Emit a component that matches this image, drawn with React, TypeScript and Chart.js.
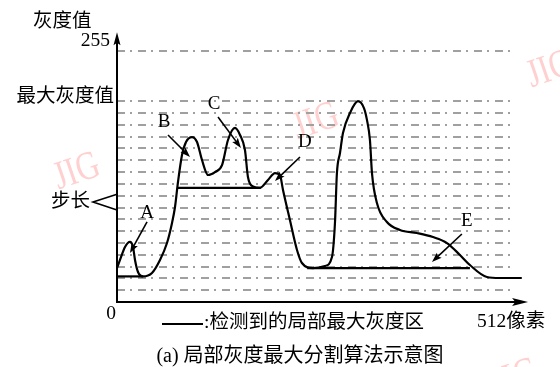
import React, { useEffect, useRef } from "react";
import { Chart, registerables } from "chart.js";

Chart.register(...registerables);

// Gray-level profile along the pixel row (x: pixel index, y: gray value)
const profileX = [0, 3.8, 10.2, 16.5, 20.4, 22.9, 26.7, 33.1, 44.5, 54.7, 63.6, 70, 73.8, 77.6, 82.7, 87.8, 95.4, 101.8, 108.1, 115.8, 124.7, 133.6, 141.2, 150.1, 156.5, 162.8, 166.6, 173, 181.9, 192.1, 201, 207.3, 211.2, 220, 229, 235.3, 249.3, 264.6, 273.5, 277.3, 279.8, 283.7, 287.5, 296.4, 306.6, 314.2, 318, 321.8, 324.4, 330.7, 343.4, 360, 381.6, 402, 419.8, 436.3, 449, 470.6, 487.2, 515];
const profileY = [34.5, 42.7, 55.9, 61, 55.9, 42.7, 30.5, 26, 29.5, 42.7, 59.9, 80.3, 96.5, 121.9, 149.4, 162.6, 167.6, 162.6, 144.3, 129, 132, 139, 164.6, 176.8, 169.7, 154.4, 127, 117.5, 116, 124, 131, 129, 113.8, 83.3, 52.8, 39.6, 34.5, 36.6, 45.7, 80.3, 131, 151.4, 171.7, 192, 204, 197, 185, 164.6, 131, 100.6, 81.3, 73.2, 70.1, 66, 59.9, 47.8, 37.6, 25.4, 24.4, 24.4];

// Detected local-maximum gray regions (horizontal segments)
const regionStartX = [0, 77, 242];
const regionEndX = [33, 183, 449];
const regionLevel = [26, 116, 34.5];

// Dash-dot level lines (step = 12) and the 255 line
const gridLevels = [12, 24, 36, 48, 60, 72, 84, 96, 108, 120, 132, 144, 156, 168, 180, 192, 204, 255];

// Annotation arrows A..E
const markerLabels = ["A", "B", "C", "D", "E"];
const markerFromX = [38.2, 64.9, 128.5, 232.8, 438.8];
const markerFromY = [81.3, 169.7, 188, 147.3, 69.1];
const markerToX = [16.5, 92.9, 157.7, 201, 400.7];
const markerToY = [49.8, 147.3, 156.5, 122.9, 40.6];
const markerLabelX = [38.2, 59.8, 123.4, 239.1, 445.2];
const markerLabelY = [90.4, 182.9, 201.2, 162.6, 82.3];

const yAxisLabel = "灰度值";
const yTopLabel = "255";
const yMaxLabel = "最大灰度值";
const stepLabel = "步长";
const originLabel = "0";
const xAxisLabel = "512像素";
const legendLabel = ":检测到的局部最大灰度区";
const captionLabel = "(a) 局部灰度最大分割算法示意图";

const X_MAX = 500;
const Y_MAX = 255;
const X_ARROW = 523;
const Y_ARROW = 274;
const STEP_HI = 109.5;
const STEP_LO = 93.5;

const FONT = '"Liberation Serif", "Noto Sans CJK SC", serif';

function arrowHead(ctx: CanvasRenderingContext2D, fx: number, fy: number, tx: number, ty: number, len: number, half: number) {
  const ang = Math.atan2(ty - fy, tx - fx);
  ctx.save();
  ctx.translate(tx, ty);
  ctx.rotate(ang);
  ctx.beginPath();
  ctx.moveTo(0, 0);
  ctx.lineTo(-len, half);
  ctx.lineTo(-len * 0.8, 0);
  ctx.lineTo(-len, -half);
  ctx.closePath();
  ctx.fill();
  ctx.restore();
}

const decorPlugin = {
  id: "decor",
  beforeDraw(chart: any) {
    const ctx: CanvasRenderingContext2D = chart.ctx;
    ctx.save();
    ctx.fillStyle = "#ffffff";
    ctx.fillRect(0, 0, chart.width, chart.height);
    ctx.fillStyle = "rgba(255, 150, 150, 0.45)";
    ctx.font = '40px "Liberation Serif", serif';
    ctx.textAlign = "center";
    ctx.textBaseline = "middle";
    const marks = [
      [77, 172],
      [316, 122],
      [550, 70],
      [515, 378],
    ];
    for (const [cx, cy] of marks) {
      ctx.save();
      ctx.translate(cx, cy);
      ctx.rotate(-0.33);
      ctx.scale(0.8, 1);
      ctx.fillText("JIG", 0, 0);
      ctx.restore();
    }
    ctx.restore();
  },
  afterDraw(chart: any) {
    const ctx: CanvasRenderingContext2D = chart.ctx;
    const xs = chart.scales.x;
    const ys = chart.scales.y;
    const px = (v: number) => xs.getPixelForValue(v);
    const py = (v: number) => ys.getPixelForValue(v);
    const x0 = px(0);
    const y0 = py(0);
    ctx.save();
    ctx.strokeStyle = "#000";
    ctx.fillStyle = "#000";
    ctx.lineCap = "butt";

    // axes
    ctx.lineWidth = 2;
    ctx.beginPath();
    ctx.moveTo(x0, y0 + 1);
    ctx.lineTo(x0, py(Y_ARROW) + 8);
    ctx.moveTo(x0 - 1, y0);
    ctx.lineTo(px(X_ARROW) - 10, y0);
    ctx.stroke();
    arrowHead(ctx, x0, y0, x0, py(Y_ARROW), 13, 3.5);
    arrowHead(ctx, x0, y0, px(X_ARROW), y0, 16, 4);

    // step bracket
    ctx.lineWidth = 1.6;
    ctx.beginPath();
    ctx.moveTo(x0, py(STEP_HI));
    ctx.lineTo(x0 - 24, (py(STEP_HI) + py(STEP_LO)) / 2);
    ctx.lineTo(x0, py(STEP_LO));
    ctx.stroke();

    // annotation arrows
    ctx.lineWidth = 1.6;
    ctx.font = "19px " + FONT;
    ctx.textAlign = "center";
    ctx.textBaseline = "middle";
    for (let i = 0; i < markerLabels.length; i++) {
      const fx = px(markerFromX[i]);
      const fy = py(markerFromY[i]);
      const tx = px(markerToX[i]);
      const ty = py(markerToY[i]);
      const ang = Math.atan2(ty - fy, tx - fx);
      ctx.beginPath();
      ctx.moveTo(fx, fy);
      ctx.lineTo(tx - Math.cos(ang) * 6, ty - Math.sin(ang) * 6);
      ctx.stroke();
      arrowHead(ctx, fx, fy, tx, ty, 10, 3.5);
      ctx.fillText(markerLabels[i], px(markerLabelX[i]), py(markerLabelY[i]));
    }

    // texts
    ctx.font = "19.5px " + FONT;
    ctx.textAlign = "left";
    ctx.fillText(yAxisLabel, x0 - 84, py(Y_ARROW) - 10);
    ctx.textAlign = "right";
    ctx.fillText(yTopLabel, x0 - 7, py(255) - 10);
    ctx.fillText(yMaxLabel, x0 - 3, py(204) - 4);
    ctx.fillText(stepLabel, x0 - 27, (py(STEP_HI) + py(STEP_LO)) / 2);
    ctx.textAlign = "center";
    ctx.fillText(originLabel, x0 - 6, y0 + 12);
    ctx.textAlign = "left";
    ctx.fillText(xAxisLabel, 477, y0 + 20);
    // legend
    ctx.lineWidth = 2;
    ctx.beginPath();
    ctx.moveTo(162, y0 + 22);
    ctx.lineTo(203, y0 + 22);
    ctx.stroke();
    ctx.fillText(legendLabel, 204, y0 + 21);
    ctx.textAlign = "center";
    ctx.font = "20px " + FONT;
    ctx.fillText(captionLabel, 300, y0 + 55);
    ctx.restore();
  },
};

export default function App() {
  const ref = useRef<HTMLCanvasElement | null>(null);

  useEffect(() => {
    if (!ref.current) return;
    const profile = profileX.map((x, i) => ({ x, y: profileY[i] }));
    const regionSets = regionStartX.map((sx, i) => ({
      data: [
        { x: sx, y: regionLevel[i] },
        { x: regionEndX[i], y: regionLevel[i] },
      ],
      borderColor: "#000",
      borderWidth: 2.2,
      pointRadius: 0,
      tension: 0,
      clip: false as any,
    }));
    const chart = new Chart(ref.current, {
      type: "line",
      data: {
        datasets: [
          {
            data: profile,
            borderColor: "#000",
            borderWidth: 2.2,
            pointRadius: 0,
            cubicInterpolationMode: "monotone",
            clip: false as any,
          },
          ...regionSets,
        ],
      },
      options: {
        animation: false,
        responsive: false,
        devicePixelRatio: 1,
        layout: { padding: { left: 117, right: 50, top: 51, bottom: 65 } },
        plugins: { legend: { display: false }, tooltip: { enabled: false } },
        events: [],
        scales: {
          x: {
            type: "linear",
            min: 0,
            max: X_MAX,
            display: true,
            grid: { display: false },
            border: { display: false },
            ticks: { display: false },
            afterFit: (s: any) => {
              s.height = 0;
            },
          },
          y: {
            type: "linear",
            min: 0,
            max: Y_MAX,
            display: true,
            grid: { color: "#a0a0a0", lineWidth: 2, drawTicks: false },
            border: { display: false, dash: [8, 5, 2, 6] },
            ticks: { display: false },
            afterBuildTicks: (s: any) => {
              s.ticks = gridLevels.map((v) => ({ value: v }));
            },
            afterFit: (s: any) => {
              s.width = 0;
            },
          },
        },
      } as any,
      plugins: [decorPlugin],
    });
    return () => chart.destroy();
  }, []);

  return (
    <div style={{ position: "absolute", left: 0, top: 0, width: 560, height: 367 }}>
      <canvas ref={ref} width={560} height={367} style={{ display: "block" }} />
    </div>
  );
}
